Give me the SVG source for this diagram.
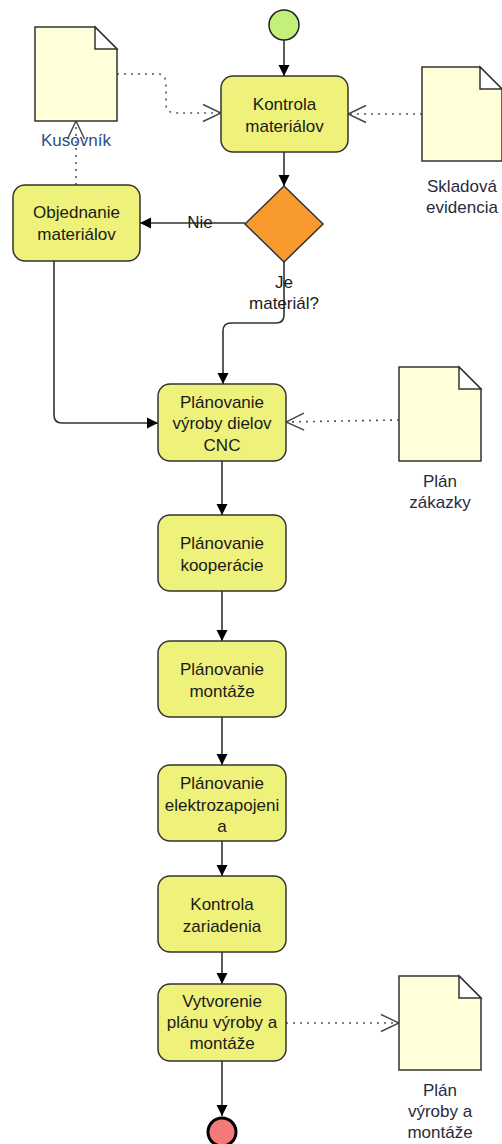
<svg xmlns="http://www.w3.org/2000/svg" width="502" height="1144" viewBox="0 0 502 1144">
  <defs>
    <style>
      .task rect { fill: #eef27a; stroke: #333; stroke-width: 1.5; }
      .doc path.body { fill: #ffffd9; stroke: #333; stroke-width: 1.5; }
      .doc path.fold { fill: #fff; stroke: #333; stroke-width: 1.5; }
      text { font-family: "Liberation Sans", Arial, sans-serif; font-size: 17px; text-anchor: middle; fill: #1a1a1a; }
      .lbl { fill: #2a2a40; }
      .flow { fill: none; stroke: #333; stroke-width: 1.6; }
      .assoc { fill: none; stroke: #555; stroke-width: 1.6; stroke-dasharray: 2 5; }
    </style>
    <marker id="arrow" viewBox="0 0 12 12" refX="11" refY="6" markerWidth="12" markerHeight="12" markerUnits="userSpaceOnUse" orient="auto">
      <path d="M0,0.5 L11,6 L0,11.5 Z" fill="#000"/>
    </marker>
    <marker id="open" viewBox="0 0 20 20" refX="19" refY="10" markerWidth="20" markerHeight="20" markerUnits="userSpaceOnUse" orient="auto">
      <path d="M1,1.5 L19,10 L1,18.5" fill="none" stroke="#444" stroke-width="1.4"/>
    </marker>
  </defs>

  <!-- connectors -->
  <g id="connectors">
    <path class="flow" d="M284,40 L284,76" marker-end="url(#arrow)"/>
    <path class="flow" d="M284,152 L284,186" marker-end="url(#arrow)"/>
    <path class="flow" d="M245,223 L140,223" marker-end="url(#arrow)"/>
    <path class="flow" d="M284,262 L284,315 Q284,323 276,323 L231,323 Q223,323 223,331 L223,384" marker-end="url(#arrow)"/>
    <path class="flow" d="M54,261 L54,415 Q54,423 62,423 L158,423" marker-end="url(#arrow)"/>
    <path class="flow" d="M222,461 L222,515" marker-end="url(#arrow)"/>
    <path class="flow" d="M222,591 L222,641" marker-end="url(#arrow)"/>
    <path class="flow" d="M222,717 L222,765" marker-end="url(#arrow)"/>
    <path class="flow" d="M222,841 L222,876" marker-end="url(#arrow)"/>
    <path class="flow" d="M222,952 L222,984" marker-end="url(#arrow)"/>
    <path class="flow" d="M222,1061 L222,1116" marker-end="url(#arrow)"/>

    <path class="assoc" d="M117,74 L158,74 Q166,74 166,84 L166,104 Q166,113 176,113 L221,113" marker-end="url(#open)"/>
    <path class="assoc" d="M422,114 L348,114" marker-end="url(#open)"/>
    <path class="assoc" d="M76,185 L76,121" marker-end="url(#open)"/>
    <path class="assoc" d="M399,420 L286,422" marker-end="url(#open)"/>
    <path class="assoc" d="M286,1023 L399,1023" marker-end="url(#open)"/>

    <text x="200" y="228">Nie</text>
    <text x="284" y="288">Je</text>
    <text x="284" y="309">materiál?</text>
  </g>

  <!-- events -->
  <g id="start">
    <circle cx="284" cy="25" r="15" fill="#c3f07b" stroke="#222" stroke-width="1.5"/>
  </g>
  <g id="end">
    <circle cx="222" cy="1132" r="14" fill="#f47a7a" stroke="#000" stroke-width="3"/>
  </g>

  <!-- gateway -->
  <g id="gateway">
    <path d="M284,186 L323,224 L284,262 L245,224 Z" fill="#f89a2d" stroke="#333" stroke-width="1.5"/>
  </g>

  <!-- tasks -->
  <g id="kontrola-materialov" class="task">
    <rect x="221" y="76" width="127" height="76" rx="12"/>
    <text x="284.5" y="110">Kontrola</text>
    <text x="284.5" y="132">materiálov</text>
  </g>
  <g id="objednanie-materialov" class="task">
    <rect x="13" y="185" width="127" height="76" rx="12"/>
    <text x="76.5" y="218">Objednanie</text>
    <text x="76.5" y="240">materiálov</text>
  </g>
  <g id="planovanie-cnc" class="task">
    <rect x="158" y="384" width="128" height="77" rx="12"/>
    <text x="222" y="408">Plánovanie</text>
    <text x="222" y="429">výroby dielov</text>
    <text x="222" y="451">CNC</text>
  </g>
  <g id="planovanie-kooperacie" class="task">
    <rect x="158" y="515" width="128" height="76" rx="12"/>
    <text x="222" y="549">Plánovanie</text>
    <text x="222" y="571">kooperácie</text>
  </g>
  <g id="planovanie-montaze" class="task">
    <rect x="158" y="641" width="128" height="76" rx="12"/>
    <text x="222" y="675">Plánovanie</text>
    <text x="222" y="697">montáže</text>
  </g>
  <g id="planovanie-elektrozapojenia" class="task">
    <rect x="158" y="765" width="128" height="76" rx="12"/>
    <text x="222" y="789">Plánovanie</text>
    <text x="222" y="811">elektrozapojeni</text>
    <text x="222" y="832">a</text>
  </g>
  <g id="kontrola-zariadenia" class="task">
    <rect x="158" y="876" width="128" height="76" rx="12"/>
    <text x="222" y="910">Kontrola</text>
    <text x="222" y="932">zariadenia</text>
  </g>
  <g id="vytvorenie-planu" class="task">
    <rect x="158" y="984" width="128" height="77" rx="12"/>
    <text x="222" y="1007">Vytvorenie</text>
    <text x="222" y="1028">plánu výroby a</text>
    <text x="222" y="1049">montáže</text>
  </g>

  <!-- data objects -->
  <g id="kusovnik" class="doc">
    <path class="body" d="M35,27 L95,27 L117,49 L117,121 L35,121 Z"/>
    <path class="fold" d="M95,27 L95,49 L117,49 Z"/>
    <text class="lbl" x="76" y="146" style="fill:#2b4f86">Kusovník</text>
  </g>
  <g id="skladova-evidencia" class="doc">
    <path class="body" d="M422,67 L480,67 L502,89 L502,161 L422,161 Z"/>
    <path class="fold" d="M480,67 L480,89 L502,89 Z"/>
    <text class="lbl" x="462" y="192">Skladová</text>
    <text class="lbl" x="462" y="213">evidencia</text>
  </g>
  <g id="plan-zakazky" class="doc">
    <path class="body" d="M399,367 L459,367 L481,389 L481,461 L399,461 Z"/>
    <path class="fold" d="M459,367 L459,389 L481,389 Z"/>
    <text class="lbl" x="440" y="487">Plán</text>
    <text class="lbl" x="440" y="508">zákazky</text>
  </g>
  <g id="plan-vyroby-montaze" class="doc">
    <path class="body" d="M399,976 L459,976 L481,998 L481,1070 L399,1070 Z"/>
    <path class="fold" d="M459,976 L459,998 L481,998 Z"/>
    <text class="lbl" x="440" y="1096">Plán</text>
    <text class="lbl" x="440" y="1117">výroby a</text>
    <text class="lbl" x="440" y="1138">montáže</text>
  </g>
</svg>
